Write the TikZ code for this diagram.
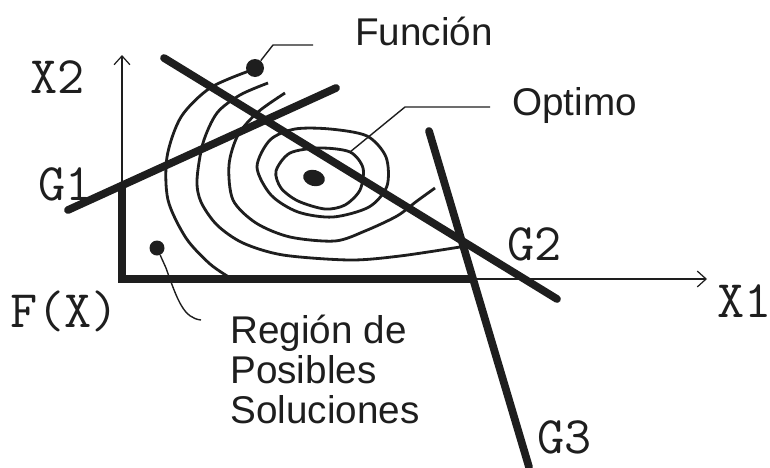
\documentclass[tikz,border=0pt]{standalone}
\usepackage{fontspec}
\setsansfont{Liberation Sans}
\usepackage{tikz}
\usetikzlibrary{arrows.meta, positioning}
\definecolor{encre}{HTML}{1E1E1E}

\begin{document}
\begin{tikzpicture}[x=0.02cm, y=-0.02cm,
    restr/.style={draw=encre, line width=4.4pt, line cap=round},
    bord/.style={draw=encre, line width=4pt, line join=miter},
    courbe/.style={draw=encre, line width=1.6pt},
    axe/.style={draw=encre, line width=0.7pt, -{Straight Barb[length=5pt, width=9pt]}},
    renvoi/.style={draw=encre, line width=0.8pt},
    point/.style={circle, fill=encre, inner sep=0pt},
    etiq/.style={font=\fontsize{30}{30}\selectfont\ttfamily, text=encre, inner sep=0pt},
    texte/.style={font=\fontsize{22}{22.7}\selectfont\sffamily, text=encre, inner sep=0pt, align=left}]
    \useasboundingbox (0,0) rectangle (770,467);
    % Axes
    \draw[axe] (122,279) -- (122,55);
    \draw[axe] (122,279) -- (707,279);
    \node[etiq, anchor=base west] (x2) at (30,93) {X2};
    \node[etiq, anchor=base west] (x1) at (717,317) {X1};
    \node[etiq, anchor=base west] (fx) at (10,327) {F(X)};
    % Courbes de niveau
    \draw[courbe] plot[smooth] coordinates {(249,71) (210,88) (181,117) (167,157) (168,200) (186,238) (210,264) (232,279)};
    \draw[courbe] plot[smooth] coordinates {(268,83) (240,95) (217,113) (203,143) (197,180) (201,202) (217,225) (243,243) (283,255) (350,260) (400,256) (460,247)};
    \draw[courbe] plot[smooth] coordinates {(285,93) (258,112) (238,135) (229,165) (233,200) (256,223) (290,237) (335,241) (365,231) (397,216) (417,201) (435,188)};
    \draw[courbe] plot[smooth cycle] coordinates {(257,167) (270,140) (295,129) (330,129) (367,136) (386,157) (387,186) (369,207) (333,217) (298,212) (271,195)};
    \draw[courbe] plot[smooth cycle] coordinates {(276,171) (290,153) (320,148) (350,152) (363,168) (360,190) (345,205) (325,209) (298,201) (281,188)};
    \fill[encre, rotate around={-15:(314,178)}] (314,178) ellipse [x radius=11, y radius=8];
    % Restrictions
    \draw[restr] (68,210) -- (336,88);
    \draw[restr] (164,58) -- (557,299);
    \draw[restr] (429,131) -- (529,467);
    \draw[bord] (122,186) -- (122,279) -- (473,279);
    \node[etiq, anchor=base west] (g1) at (38,200) {G1};
    \node[etiq, anchor=base west] (g2) at (507,260) {G2};
    \node[etiq, anchor=base west] (g3) at (537,453) {G3};
    % Renvois
    \node[point, minimum size=0.36cm] (fdot) at (255,68) {};
    \node[point, minimum size=0.3cm] (rdot) at (157,248) {};
    \coordinate (fcoude) at (273,45);
    \coordinate (fbout) at (313,45);
    \coordinate (odep) at (350,152);
    \coordinate (ocoude) at (405,107);
    \coordinate (obout) at (490,107);
    \coordinate (rbout) at (201,320);
    \draw[renvoi] (fdot) -- (fcoude) -- (fbout);
    \draw[renvoi] (odep) -- (ocoude) -- (obout);
    \draw[renvoi] (rdot) -- (166,268) .. controls (178,302) and (184,318) .. (rbout);
    \node[texte, anchor=base west] (fonc) at (355,45) {Función};
    \node[texte, anchor=base west] (opt) at (512,115) {Optimo};
    \node[texte, anchor=north west] (region) at (230,315) {Región de\\Posibles\\Soluciones};
\end{tikzpicture}
\end{document}
